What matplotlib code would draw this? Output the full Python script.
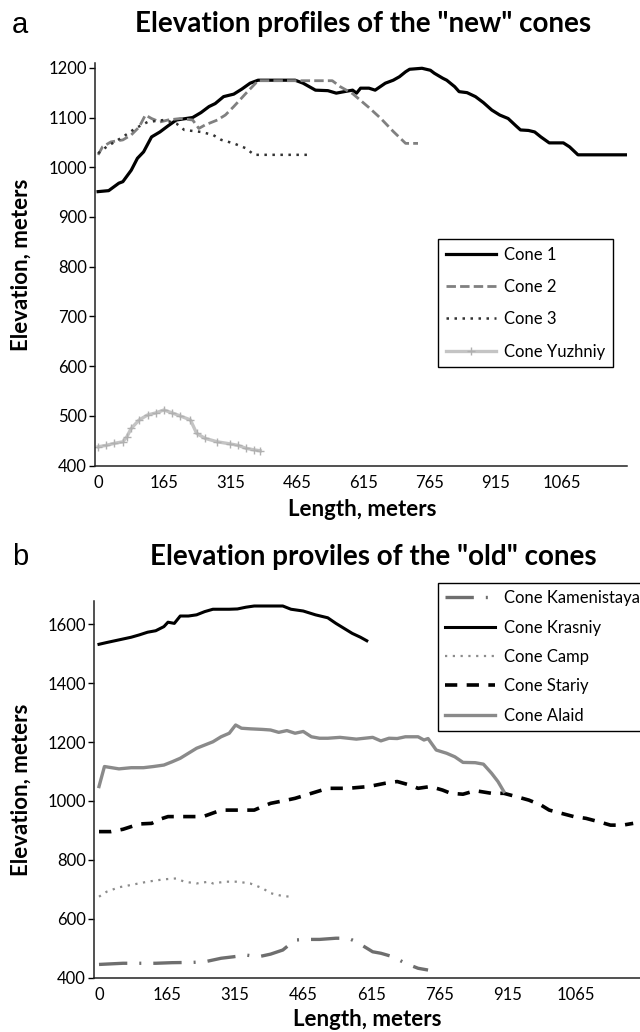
import matplotlib
matplotlib.use("Agg")
import matplotlib.pyplot as plt

plt.rcParams['font.family'] = ['Lato', 'DejaVu Sans']

# ---- panel a: "new" cones (distance along profile, elevation) ----
cone1_x = [0, 24, 47, 56, 75, 89, 103, 121, 140, 158, 177, 214, 233, 251, 265, 284, 307, 325, 344, 362,
           446, 464, 492, 520, 539, 557, 576, 585, 594, 613, 627, 650, 668, 682, 696, 705, 733, 752, 761,
           780, 789, 807, 817, 835, 854, 872, 891, 909, 928, 946, 956, 974, 988, 1002, 1021, 1053, 1067,
           1086, 1197]
cone1_y = [951, 953, 968, 971, 994, 1018, 1031, 1061, 1071, 1083, 1095, 1100, 1110, 1122, 1128, 1142, 1147,
           1157, 1169, 1175, 1175, 1169, 1155, 1154, 1149, 1152, 1155, 1149, 1159, 1159, 1155, 1169, 1175,
           1182, 1192, 1197, 1199, 1195, 1189, 1179, 1175, 1162, 1152, 1150, 1142, 1130, 1115, 1105, 1098,
           1083, 1075, 1074, 1071, 1061, 1049, 1049, 1041, 1025, 1025]

cone2_x = [0, 10, 29, 56, 75, 93, 107, 121, 140, 158, 186, 214, 228, 242, 270, 288, 307, 335, 362, 530,
           548, 576, 613, 640, 668, 696, 724]
cone2_y = [1025, 1041, 1051, 1055, 1065, 1081, 1105, 1098, 1091, 1095, 1098, 1095, 1078, 1085, 1095, 1105,
           1122, 1149, 1174, 1174, 1162, 1148, 1120, 1098, 1072, 1048, 1048]

cone3_x = [0, 19, 56, 84, 112, 149, 177, 195, 233, 260, 279, 307, 335, 353, 483]
cone3_y = [1028, 1041, 1061, 1078, 1091, 1095, 1088, 1075, 1071, 1065, 1055, 1048, 1038, 1025, 1025]

yuzh_x = [0, 19, 37, 56, 65, 75, 93, 112, 130, 149, 168, 186, 209, 223, 242, 270, 298, 316, 335, 352, 367]
yuzh_y = [438, 441, 445, 448, 458, 475, 492, 502, 506, 512, 506, 500, 492, 465, 455, 448, 444, 441, 435, 432, 430]

# ---- panel b: "old" cones ----
kamen_x = [0, 53, 125, 161, 206, 233, 269, 296, 324, 351, 378, 405, 432, 459, 486, 522, 549, 567, 585,
           603, 621, 648, 675, 703, 725]
kamen_y = [445, 449, 449, 451, 452, 454, 466, 471, 477, 471, 480, 494, 528, 530, 530, 534, 534, 522, 505,
           488, 483, 471, 449, 432, 426]

krasn_x = [0, 17, 44, 71, 89, 107, 125, 143, 152, 166, 179, 197, 215, 233, 251, 287, 305, 324, 342, 405,
           423, 450, 477, 504, 522, 540, 558, 576, 590]
krasn_y = [1532, 1538, 1547, 1556, 1564, 1573, 1578, 1592, 1607, 1603, 1628, 1628, 1632, 1643, 1651, 1651,
           1652, 1658, 1662, 1662, 1651, 1645, 1632, 1622, 1603, 1586, 1569, 1556, 1544]

camp_x = [0, 17, 44, 71, 107, 143, 170, 188, 215, 242, 251, 278, 305, 333, 360, 378, 405, 423]
camp_y = [675, 692, 707, 715, 726, 734, 737, 726, 720, 726, 720, 726, 726, 720, 704, 687, 677, 675]

stariy_x = [0, 26, 53, 71, 89, 116, 134, 152, 179, 215, 233, 260, 278, 305, 342, 360, 378, 414, 432, 468,
            504, 549, 594, 630, 657, 685, 703, 730, 757, 775, 802, 829, 865, 892, 919, 947, 974, 992, 1019,
            1046, 1073, 1100, 1127, 1154, 1177]
stariy_y = [896, 896, 904, 913, 922, 924, 938, 947, 947, 947, 949, 964, 969, 969, 969, 981, 992, 1003, 1009,
            1026, 1043, 1043, 1049, 1060, 1066, 1054, 1043, 1049, 1037, 1026, 1023, 1035, 1026, 1026, 1015,
            1003, 986, 969, 958, 947, 941, 930, 918, 918, 924]

alaid_x = [0, 12, 44, 71, 98, 120, 143, 161, 179, 197, 215, 233, 251, 269, 287, 301, 314, 333, 360, 378,
           396, 414, 432, 450, 468, 486, 504, 531, 549, 567, 585, 603, 621, 639, 657, 675, 703, 716, 725,
           743, 766, 784, 802, 829, 847, 865, 879, 892]
alaid_y = [1049, 1117, 1109, 1113, 1113, 1117, 1122, 1133, 1145, 1162, 1179, 1190, 1201, 1218, 1230, 1258,
           1247, 1245, 1243, 1241, 1233, 1239, 1230, 1236, 1218, 1213, 1213, 1216, 1213, 1210, 1213, 1216,
           1204, 1213, 1212, 1218, 1218, 1207, 1212, 1173, 1162, 1150, 1131, 1130, 1125, 1094, 1066, 1032]

# category axis: labels are evenly spaced
tick_pos = [0, 150, 300, 450, 600, 750, 900, 1050]
tick_labels = ['0', '165', '315', '465', '615', '765', '915', '1065']

W, H = 640, 1032
fig = plt.figure(figsize=(W / 100, H / 100), dpi=100)


def box(l, t, r, b):
    return [l / W, 1 - b / H, (r - l) / W, (b - t) / H]


def style(ax):
    for s in ['top', 'right']:
        ax.spines[s].set_visible(False)
    for s in ['left', 'bottom']:
        ax.spines[s].set_linewidth(1.1)
        ax.spines[s].set_color('#222222')
    ax.tick_params(axis='y', length=4, width=1, pad=2, labelsize=12, direction='out')
    ax.tick_params(axis='x', length=0, pad=7, labelsize=12)
    ax.set_xticks(tick_pos)
    ax.set_xticklabels(tick_labels)


# panel a
ax1 = fig.add_axes(box(95, 63.3, 627, 465.7))
ax1.plot(cone1_x, cone1_y, color='black', lw=2.3, label='Cone 1', solid_joinstyle='round')
ax1.plot(cone2_x, cone2_y, color='#808080', lw=2.0, dashes=(3.4, 1.5), label='Cone 2')
ax1.plot(cone3_x, cone3_y, color='#333333', lw=1.8, dashes=(1, 2.2), label='Cone 3')
ax1.plot(yuzh_x, yuzh_y, color='#c4c4c4', lw=2.4, marker='+', ms=6, mew=1, mec='#b0b0b0',
         label='Cone Yuzhniy')
ax1.set_xlim(-7, 1197)
ax1.set_ylim(400, 1209)
ax1.set_yticks(range(400, 1201, 100))
style(ax1)
leg1 = ax1.legend(loc='upper left', bbox_to_anchor=(438 / W, 1 - 239 / H), bbox_transform=fig.transFigure,
                  borderaxespad=0, fontsize=12, handlelength=3.0, handletextpad=0.5, labelspacing=0.98,
                  borderpad=0.45, fancybox=False, framealpha=1, edgecolor='black')
leg1.get_frame().set_linewidth(1.0)

# panel b
ax2 = fig.add_axes(box(94, 600.7, 645, 977.7))
ax2.plot(kamen_x, kamen_y, color='#6e6e6e', lw=2.4, dashes=(8.5, 3.6, 0.6, 3.6), label='Cone Kamenistaya')
ax2.plot(krasn_x, krasn_y, color='black', lw=2.2, label='Cone Krasniy')
ax2.plot(camp_x, camp_y, color='#8c8c8c', lw=1.6, dashes=(1, 2.5), label='Cone Camp')
ax2.plot(stariy_x, stariy_y, color='black', lw=2.6, dashes=(3.4, 2.6), label='Cone Stariy')
ax2.plot(alaid_x, alaid_y, color='#8a8a8a', lw=2.4, label='Cone Alaid')
ax2.set_xlim(-11, 1203)
ax2.set_ylim(400, 1680)
ax2.set_yticks(range(400, 1601, 200))
style(ax2)
leg2 = ax2.legend(loc='upper left', bbox_to_anchor=(437.7 / W, 1 - 582.7 / H), bbox_transform=fig.transFigure,
                  borderaxespad=0, fontsize=12, handlelength=3.0, handletextpad=0.5, labelspacing=0.8,
                  borderpad=0.45, fancybox=False, framealpha=1, edgecolor='black')
leg2.get_frame().set_linewidth(1.0)

# titles and labels
fig.text(12 / W, 1 - 25 / H, 'a', fontsize=21, family=['Liberation Sans'], va='center', ha='left')
fig.text(12 / W, 1 - 557 / H, 'b', fontsize=21, family=['Liberation Sans'], va='center', ha='left')
fig.text(135 / W, 1 - 24 / H, 'Elevation profiles of the "new" cones', fontsize=20, fontweight='bold',
         va='center', ha='left')
fig.text(150 / W, 1 - 557 / H, 'Elevation proviles of the "old" cones', fontsize=20, fontweight='bold',
         va='center', ha='left')
fig.text(362 / W, 1 - 510 / H, 'Length, meters', fontsize=16, fontweight='bold', ha='center', va='center')
fig.text(367 / W, 1 - 1020 / H, 'Length, meters', fontsize=16, fontweight='bold', ha='center', va='center')
fig.text(21 / W, 1 - 264.5 / H, 'Elevation, meters', fontsize=16, fontweight='bold', rotation=90,
         ha='center', va='center')
fig.text(21 / W, 1 - 790 / H, 'Elevation, meters', fontsize=16, fontweight='bold', rotation=90,
         ha='center', va='center')

fig.savefig('out.png', dpi=100)
